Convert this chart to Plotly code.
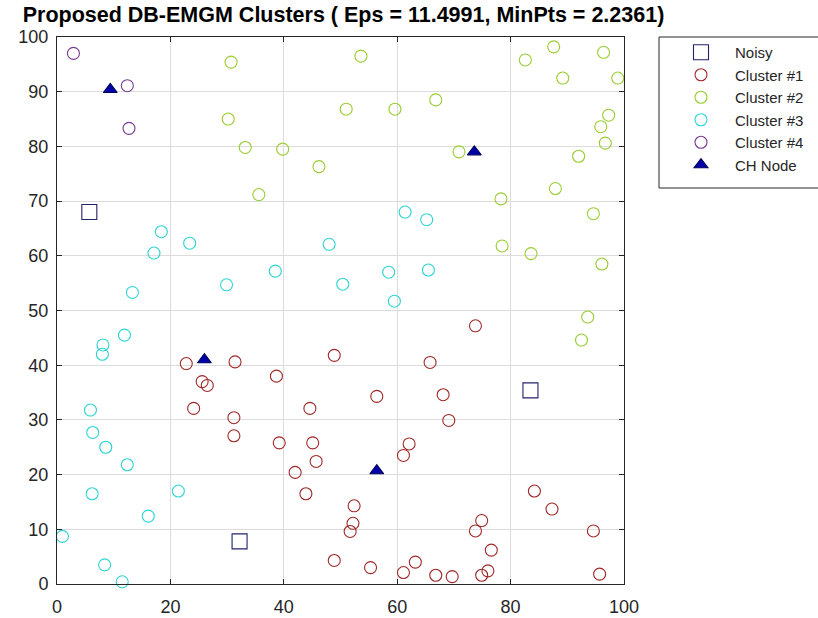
import plotly.graph_objects as go

# ---- data -------------------------------------------------------------
noisy_x = [5.7, 83.5, 32.2]
noisy_y = [68.0, 35.4, 7.8]

c1_x = [22.8, 31.4, 38.7, 48.9, 25.6, 26.5, 24.1, 44.6, 31.2, 31.2,
        73.8, 65.8, 56.4, 68.1, 69.1, 62.1, 61.1, 39.2, 45.1, 45.7,
        42.0, 43.9, 48.9, 52.4, 52.2, 51.7, 55.3, 61.1, 63.2, 66.8,
        69.7, 74.9, 73.8, 76.6, 76.0, 74.9, 84.2, 87.3, 94.6, 95.7]
c1_y = [40.3, 40.6, 38.0, 41.8, 37.0, 36.3, 32.1, 32.1, 30.4, 27.1,
        47.2, 40.5, 34.3, 34.6, 29.9, 25.6, 23.5, 25.8, 25.8, 22.4,
        20.4, 16.5, 4.3, 14.3, 11.1, 9.6, 3.0, 2.1, 4.0, 1.6,
        1.35, 11.6, 9.7, 6.2, 2.4, 1.6, 17.0, 13.7, 9.7, 1.8]

c2_x = [30.7, 53.6, 82.6, 87.6, 96.4, 89.2, 98.9, 66.8, 51.0, 59.6,
        30.2, 33.2, 39.8, 46.2, 35.6, 70.9, 97.3, 95.9, 96.7, 92.0,
        87.9, 78.3, 94.6, 78.5, 83.6, 96.1, 93.6, 92.5]
c2_y = [95.4, 96.5, 95.8, 98.2, 97.2, 92.5, 92.5, 88.5, 86.8, 86.8,
        85.0, 79.8, 79.5, 76.3, 71.2, 79.0, 85.7, 83.6, 80.6, 78.2,
        72.3, 70.4, 67.7, 61.8, 60.4, 58.5, 48.8, 44.6]

c3_x = [18.4, 17.1, 23.4, 48.0, 38.5, 61.4, 65.2, 58.5, 65.5, 13.3,
        29.9, 11.9, 8.1, 8.0, 5.9, 6.3, 50.4, 59.5, 8.6, 12.4,
        6.2, 21.4, 16.1, 0.95, 8.4, 11.5]
c3_y = [64.4, 60.5, 62.3, 62.1, 57.2, 68.0, 66.6, 57.0, 57.4, 53.3,
        54.7, 45.5, 43.7, 42.0, 31.8, 27.7, 54.8, 51.7, 25.0, 21.8,
        16.5, 17.0, 12.4, 8.7, 3.5, 0.4]

c4_x = [2.9, 12.4, 12.7]
c4_y = [97.0, 91.1, 83.3]

ch_x = [9.4, 73.6, 26.0, 56.4]
ch_y = [90.4, 79.0, 41.0, 20.7]

x_ticks = [0, 20, 40, 60, 80, 100]
y_ticks = [0, 10, 20, 30, 40, 50, 60, 70, 80, 90, 100]

# ---- figure -----------------------------------------------------------
W, H = 818, 618
L, R, T, B = 57, 194, 37, 34
PW, PH = W - L - R, H - T - B

fig = go.Figure()


def add_series(x, y, name, symbol, color, size, fill=None):
    fig.add_trace(go.Scatter(
        x=x, y=y, mode="markers", name=name, legendgroup=name,
        cliponaxis=False,
        marker=dict(symbol=symbol, size=size,
                    color=fill if fill else color,
                    line=dict(color=color, width=1.1)),
    ))


add_series(noisy_x, noisy_y, "Noisy", "square-open", "#23236b", 15)
add_series(c1_x, c1_y, "Cluster #1", "circle-open", "#a02828", 12)
add_series(c2_x, c2_y, "Cluster #2", "circle-open", "#9acd32", 12)
add_series(c3_x, c3_y, "Cluster #3", "circle-open", "#2ed4d4", 12)
add_series(c4_x, c4_y, "Cluster #4", "circle-open", "#783a94", 12)
add_series(ch_x, ch_y, "CH Node", "triangle-up", "#00005a", 12, fill="#0000aa")

axis_common = dict(
    range=[0, 100], showgrid=True, gridcolor="#dcdcdc", gridwidth=1,
    showline=True, linecolor="#262626", linewidth=1, mirror="ticks",
    ticks="inside", ticklen=5, tickcolor="#262626",
    tickfont=dict(family="Liberation Sans", size=18, color="#262626"),
    zeroline=False, fixedrange=True, automargin=False,
)

fig.update_layout(
    width=W, height=H,
    margin=dict(l=L, r=R, t=T, b=B, autoexpand=False),
    paper_bgcolor="white", plot_bgcolor="white",
    title=dict(
        text="<b>Proposed DB-EMGM Clusters ( Eps = 11.4991, MinPts = 2.2361)</b>",
        x=343.5 / W, xanchor="center",
        y=1 - 14 / H, yanchor="middle",
        font=dict(family="Liberation Sans", size=21.5, color="black"),
    ),
    xaxis=dict(axis_common, tickvals=x_ticks, ticklabelstandoff=6),
    yaxis=dict(axis_common, tickvals=y_ticks, ticklabelstandoff=4),
    showlegend=True,
    legend=dict(
        x=(667 - L) / PW, xanchor="left",
        y=1 - (36 - T) / PH, yanchor="top",
        bgcolor="rgba(0,0,0,0)", borderwidth=0,
        font=dict(family="Liberation Sans", size=15, color="#262626"),
        tracegroupgap=0, itemwidth=58,
    ),
)

# legend frame (runs past the right edge of the page)
fig.add_shape(
    type="rect", xref="paper", yref="paper",
    x0=(659 - L) / PW, x1=(830 - L) / PW,
    y0=1 - (188 - T) / PH, y1=1 - (37 - T) / PH,
    line=dict(color="#262626", width=1), fillcolor="rgba(0,0,0,0)",
)

fig.write_html("out.html")
